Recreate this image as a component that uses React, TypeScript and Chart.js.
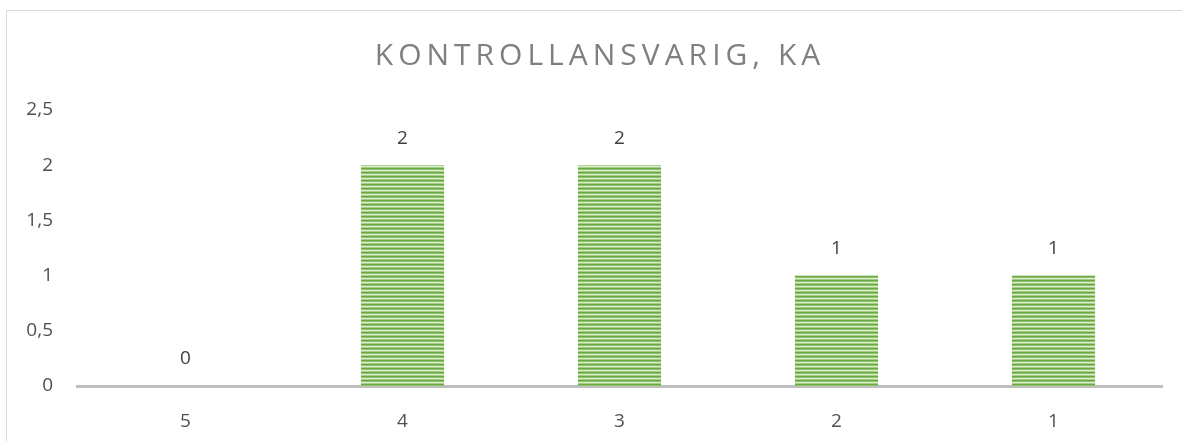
import React, { useEffect, useRef } from "react";
import { Chart, registerables } from "chart.js";

Chart.register(...registerables);

const categories: string[] = ["5", "4", "3", "2", "1"];
const values: number[] = [0, 2, 2, 1, 1];
const titleText = "KONTROLLANSVARIG, KA";
const yMax = 2.5;
const yStep = 0.5;

const FONT = "'Open Sans', 'Noto Sans', sans-serif";

function makePattern(): CanvasPattern | string {
  const c = document.createElement("canvas");
  c.width = 4;
  c.height = 4;
  const g = c.getContext("2d");
  if (!g) return "#70ad47";
  const rows = ["#6aa842", "#8fc26b", "#dcecd0", "#a5cf88"];
  rows.forEach((col, i) => {
    g.fillStyle = col;
    g.fillRect(0, i, 4, 1);
  });
  const p = g.createPattern(c, "repeat");
  return p || "#70ad47";
}

const framePlugin = {
  id: "frameAndTitle",
  beforeDraw(chart: any) {
    const ctx = chart.ctx;
    ctx.save();
    ctx.fillStyle = "#ffffff";
    ctx.fillRect(0, 0, chart.width, chart.height);
    ctx.strokeStyle = "#d9d9d9";
    ctx.lineWidth = 1;
    ctx.strokeRect(6.5, 10.5, chart.width - 6, chart.height + 10);
    ctx.restore();
  },
  afterDraw(chart: any) {
    const ctx = chart.ctx;
    ctx.save();
    ctx.font = `30px ${FONT}`;
    (ctx as any).letterSpacing = "5px";
    ctx.fillStyle = "#7f7f7f";
    ctx.textAlign = "center";
    ctx.textBaseline = "middle";
    ctx.fillText(titleText, 600, 56);
    (ctx as any).letterSpacing = "0px";
    // data labels
    const meta = chart.getDatasetMeta(0);
    ctx.font = `19px ${FONT}`;
    ctx.fillStyle = "#404040";
    ctx.textAlign = "center";
    ctx.textBaseline = "middle";
    meta.data.forEach((bar: any, i: number) => {
      ctx.fillText(String(values[i]).replace(".", ","), bar.x, bar.y - 27);
    });
    ctx.restore();
  },
};

export default function App() {
  const ref = useRef<HTMLCanvasElement | null>(null);
  useEffect(() => {
    if (!ref.current) return;
    const chart = new Chart(ref.current, {
      type: "bar",
      data: {
        labels: categories,
        datasets: [
          {
            data: values,
            backgroundColor: makePattern() as any,
            borderWidth: 0,
            barPercentage: 0.383,
            categoryPercentage: 1,
          },
        ],
      },
      options: {
        responsive: false,
        animation: false,
        devicePixelRatio: 1,
        layout: { padding: { top: 110, right: 20, left: 0, bottom: 0 } },
        plugins: {
          legend: { display: false },
          tooltip: { enabled: false },
          title: { display: false },
        },
        scales: {
          x: {
            grid: { display: false },
            border: { display: true, color: "#bfbfbf", width: 3 },
            ticks: {
              color: "#505050",
              font: { family: FONT, size: 19 },
              padding: 16,
            },
            afterFit: (s: any) => {
              s.height = 55;
            },
          },
          y: {
            min: 0,
            max: yMax,
            grid: { display: false },
            border: { display: false },
            ticks: {
              stepSize: yStep,
              color: "#505050",
              font: { family: FONT, size: 19 },
              padding: 16,
              callback: (v: any) => String(v).replace(".", ","),
            },
            afterFit: (s: any) => {
              s.width = 77;
            },
          },
        },
      },
      plugins: [framePlugin],
    });
    return () => chart.destroy();
  }, []);
  return (
    <div style={{ position: "fixed", left: 0, top: 0, width: 1182, height: 441 }}>
      <canvas ref={ref} width={1182} height={441} style={{ display: "block" }} />
    </div>
  );
}
